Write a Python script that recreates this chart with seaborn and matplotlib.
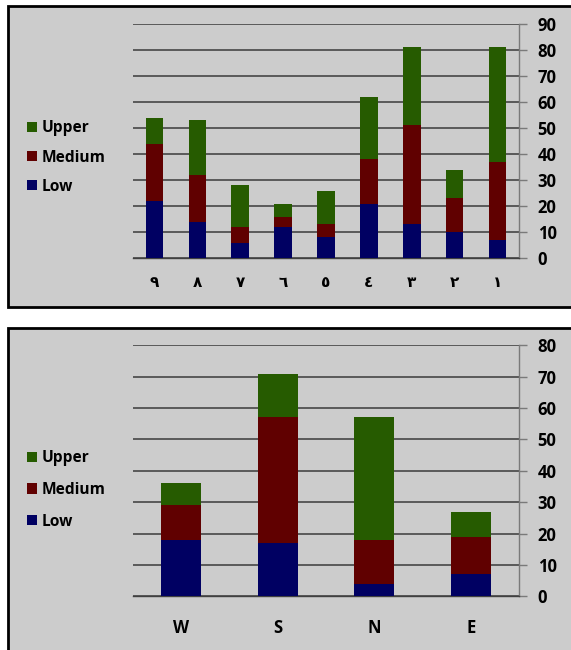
import matplotlib
matplotlib.use("Agg")
import matplotlib.pyplot as plt
from matplotlib.patches import Rectangle, Patch
import numpy as np
import pandas as pd
import seaborn as sns

# Zones (Arabic-Indic numerals, listed left to right)
zones = ["٩", "٨", "٧", "٦", "٥", "٤", "٣", "٢", "١"]
zone_low = [22, 14, 6, 12, 8, 21, 13, 10, 7]
zone_medium = [22, 18, 6, 4, 5, 17, 38, 13, 30]
zone_upper = [10, 21, 16, 5, 13, 24, 30, 11, 44]
zone_ticks = [0, 10, 20, 30, 40, 50, 60, 70, 80, 90]

# Directions
directions = ["W", "S", "N", "E"]
dir_low = [18, 17, 4, 7]
dir_medium = [11, 40, 14, 12]
dir_upper = [7, 14, 39, 8]
dir_ticks = [0, 10, 20, 30, 40, 50, 60, 70, 80]

GREEN = "#265b00"
RED = "#600000"
NAVY = "#000062"
PANEL = "#cccccc"

sns.set_style("white")
plt.rcParams["font.family"] = ["Open Sans", "DejaVu Sans"]
plt.rcParams["font.weight"] = "bold"
plt.rcParams["text.color"] = "black"

W, H = 571, 650
fig = plt.figure(figsize=(W / 100, H / 100), dpi=100)
fig.patch.set_facecolor("white")

# grey panels with black frames
fig.patches.append(Rectangle((8 / W, 1 - 307 / H), 1.0, (307 - 6) / H,
                             transform=fig.transFigure, facecolor=PANEL,
                             edgecolor="black", linewidth=2, zorder=0))
fig.patches.append(Rectangle((8 / W, -0.05), 1.0, (650 - 328) / H + 0.05,
                             transform=fig.transFigure, facecolor=PANEL,
                             edgecolor="black", linewidth=2, zorder=0))


def stacked(ax, cats, low, med, up, ticks, label_pad, xsize):
    df = pd.DataFrame({"cat": cats, "Low": low, "Medium": med, "Upper": up})
    df["lowmed"] = df["Low"] + df["Medium"]
    df["total"] = df["lowmed"] + df["Upper"]
    for col, color in [("total", GREEN), ("lowmed", RED), ("Low", NAVY)]:
        sns.barplot(data=df, x="cat", y=col, order=cats, color=color,
                    saturation=1, width=0.41, linewidth=0, ax=ax, zorder=3)
    n = len(cats)
    ax.set_zorder(2)
    ax.set_xlim(-0.5, n - 0.5)
    ax.set_ylim(ticks[0], ticks[-1])
    ax.patch.set_alpha(0)
    ax.set_axisbelow(True)
    ax.set_xlabel("")
    ax.set_ylabel("")

    ax.yaxis.tick_right()
    ax.set_yticks(ticks)
    ax.set_yticklabels([str(t) for t in ticks], fontsize=12, fontweight="bold")
    ax.tick_params(axis="y", which="major", direction="out", length=5.5,
                   width=1, color="#7a7a7a", pad=8, labelcolor="black")
    ax.grid(axis="y", color="#3a3a3a", linewidth=1.1)
    ax.grid(axis="x", visible=False)

    ax.set_xticks(range(n))
    ax.set_xticklabels(cats, fontsize=xsize, fontweight="bold")
    ax.set_xticks(np.arange(-0.5, n, 1.0), minor=True)
    ax.tick_params(axis="x", which="major", length=0, pad=label_pad,
                   labelcolor="black")
    ax.tick_params(axis="x", which="minor", direction="out", length=5,
                   width=1, color="#404040")

    for side in ("left", "top"):
        ax.spines[side].set_visible(False)
    ax.spines["right"].set_color("#7a7a7a")
    ax.spines["right"].set_linewidth(1)
    ax.spines["bottom"].set_color("#404040")
    ax.spines["bottom"].set_linewidth(1)


def legend(center_y, spacing):
    handles = [Patch(facecolor=GREEN, edgecolor="none", label="Upper"),
               Patch(facecolor=RED, edgecolor="none", label="Medium"),
               Patch(facecolor=NAVY, edgecolor="none", label="Low")]
    leg = fig.legend(handles=handles, loc="center left",
                     bbox_to_anchor=(27 / W, 1 - center_y / H), frameon=False,
                     borderpad=0, borderaxespad=0, handlelength=0.62,
                     handleheight=0.62, handletextpad=0.35,
                     labelspacing=spacing,
                     prop={"family": "Open Sans", "weight": "bold",
                           "size": 11.2})
    for t in leg.get_texts():
        t.set_color("black")
    leg.set_zorder(3)


left = 133 / W
width = (519 - 133) / W

ax1 = fig.add_axes([left, 1 - 258.3 / H, width, (258.3 - 23.7) / H])
stacked(ax1, zones, zone_low, zone_medium, zone_upper, zone_ticks, 12.5, 11)
legend(157.5, 0.85)

ax2 = fig.add_axes([left, 1 - 596.3 / H, width, (596.3 - 345.3) / H])
stacked(ax2, directions, dir_low, dir_medium, dir_upper, dir_ticks, 16, 12)
legend(490, 1.0)

fig.savefig("out.png", dpi=100)
